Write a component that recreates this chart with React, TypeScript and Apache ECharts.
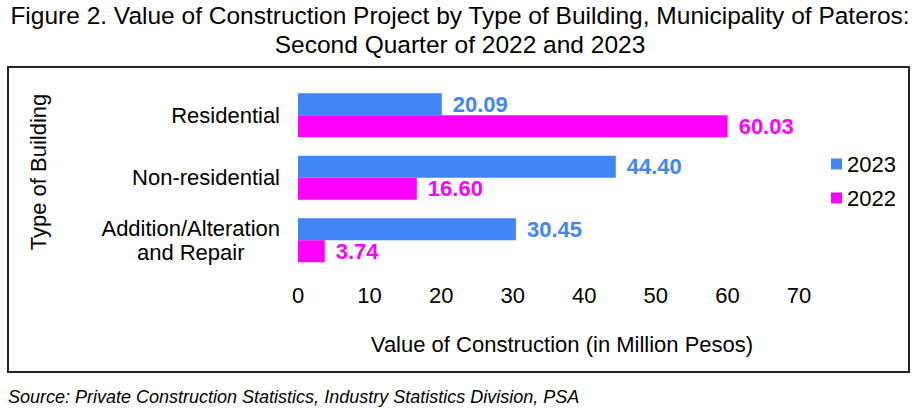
import React, { useEffect, useRef } from "react";
import * as echarts from "echarts";

const categories = ["Residential", "Non-residential", "Addition/Alteration\nand Repair"];
const values2023 = [20.09, 44.4, 30.45];
const values2022 = [60.03, 16.6, 3.74];
const seriesNames = ["2023", "2022"];
const xTicks = [0, 70, 10];

const FONT = "'Liberation Sans', Arial, Helvetica, sans-serif";
const BLUE = "#4285f4";
const MAGENTA = "#ff00ff";

export default function App() {
  const ref = useRef<HTMLDivElement>(null);

  useEffect(() => {
    if (!ref.current) return;
    const chart = echarts.init(ref.current, undefined, { renderer: "svg" });
    const labelCfg = (color: string) => ({
      show: true,
      position: "right" as const,
      distance: 11,
      color,
      fontFamily: FONT,
      fontSize: 22,
      fontWeight: "bold" as const,
      formatter: (p: any) => Number(p.value).toFixed(2),
    });
    chart.setOption({
      animation: false,
      textStyle: { fontFamily: FONT },
      title: {
        text: "Figure 2. Value of Construction Project by Type of Building, Municipality of Pateros:\nSecond Quarter of 2022 and 2023",
        left: 460,
        top: 1,
        padding: 0,
        textAlign: "center",
        textStyle: {
          fontFamily: FONT,
          fontSize: 24.5,
          fontWeight: "normal",
          color: "#000",
          lineHeight: 29,
        },
      },
      legend: {
        orient: "vertical",
        left: 826,
        top: 148,
        itemWidth: 11,
        itemHeight: 11,
        itemGap: 12,
        icon: "rect",
        data: seriesNames,
        textStyle: { fontFamily: FONT, fontSize: 22, color: "#000", lineHeight: 22 },
      },
      grid: { left: 298, right: 121, top: 84, bottom: 139.5, containLabel: false },
      xAxis: {
        type: "value",
        min: xTicks[0],
        max: xTicks[1],
        interval: xTicks[2],
        axisLine: { show: false },
        axisTick: { show: false },
        splitLine: { show: false },
        axisLabel: { fontSize: 22, color: "#000", margin: 13, fontFamily: FONT },
        name: "Value of Construction (in Million Pesos)",
        nameLocation: "middle",
        nameGap: 62,
        nameTextStyle: { fontSize: 22, color: "#000", fontFamily: FONT, padding: [0, 0, 0, 27] },
      },
      yAxis: {
        type: "category",
        inverse: true,
        data: categories,
        axisLine: { show: false },
        axisTick: { show: false },
        axisLabel: {
          margin: 18,
          fontSize: 22,
          color: "#000",
          fontFamily: FONT,
          align: "right",
          formatter: (v: string) =>
            v
              .split("\n")
              .map((l) => `{c|${l}}`)
              .join("\n"),
          rich: {
            c: { align: "center", fontSize: 22, lineHeight: 24, color: "#000", fontFamily: FONT },
          },
        },
      },
      series: [
        {
          name: seriesNames[0],
          type: "bar",
          data: values2023,
          barWidth: 22,
          barGap: "0%",
          itemStyle: { color: BLUE },
          label: labelCfg(BLUE),
        },
        {
          name: seriesNames[1],
          type: "bar",
          data: values2022,
          barWidth: 22,
          barGap: "0%",
          itemStyle: { color: MAGENTA },
          label: labelCfg(MAGENTA),
        },
      ],
      graphic: [
        {
          type: "rect",
          shape: { x: 8, y: 67, width: 901, height: 305 },
          style: { fill: "none", stroke: "#222", lineWidth: 2 },
          silent: true,
        },
        {
          type: "text",
          x: 38,
          y: 172,
          rotation: Math.PI / 2,
          style: {
            text: "Type of Building",
            fontFamily: FONT,
            fontSize: 22,
            fill: "#000",
            align: "center",
            verticalAlign: "middle",
          },
        },
        {
          type: "text",
          x: 8,
          y: 397,
          style: {
            text: "Source: Private Construction Statistics, Industry Statistics Division, PSA",
            fontFamily: FONT,
            fontSize: 18,
            fontStyle: "italic",
            fill: "#000",
            align: "left",
            verticalAlign: "middle",
          },
        },
      ],
    });
    return () => chart.dispose();
  }, []);

  return (
    <div
      ref={ref}
      style={{ position: "fixed", left: 0, top: 0, width: 920, height: 411, background: "#fff" }}
    />
  );
}
